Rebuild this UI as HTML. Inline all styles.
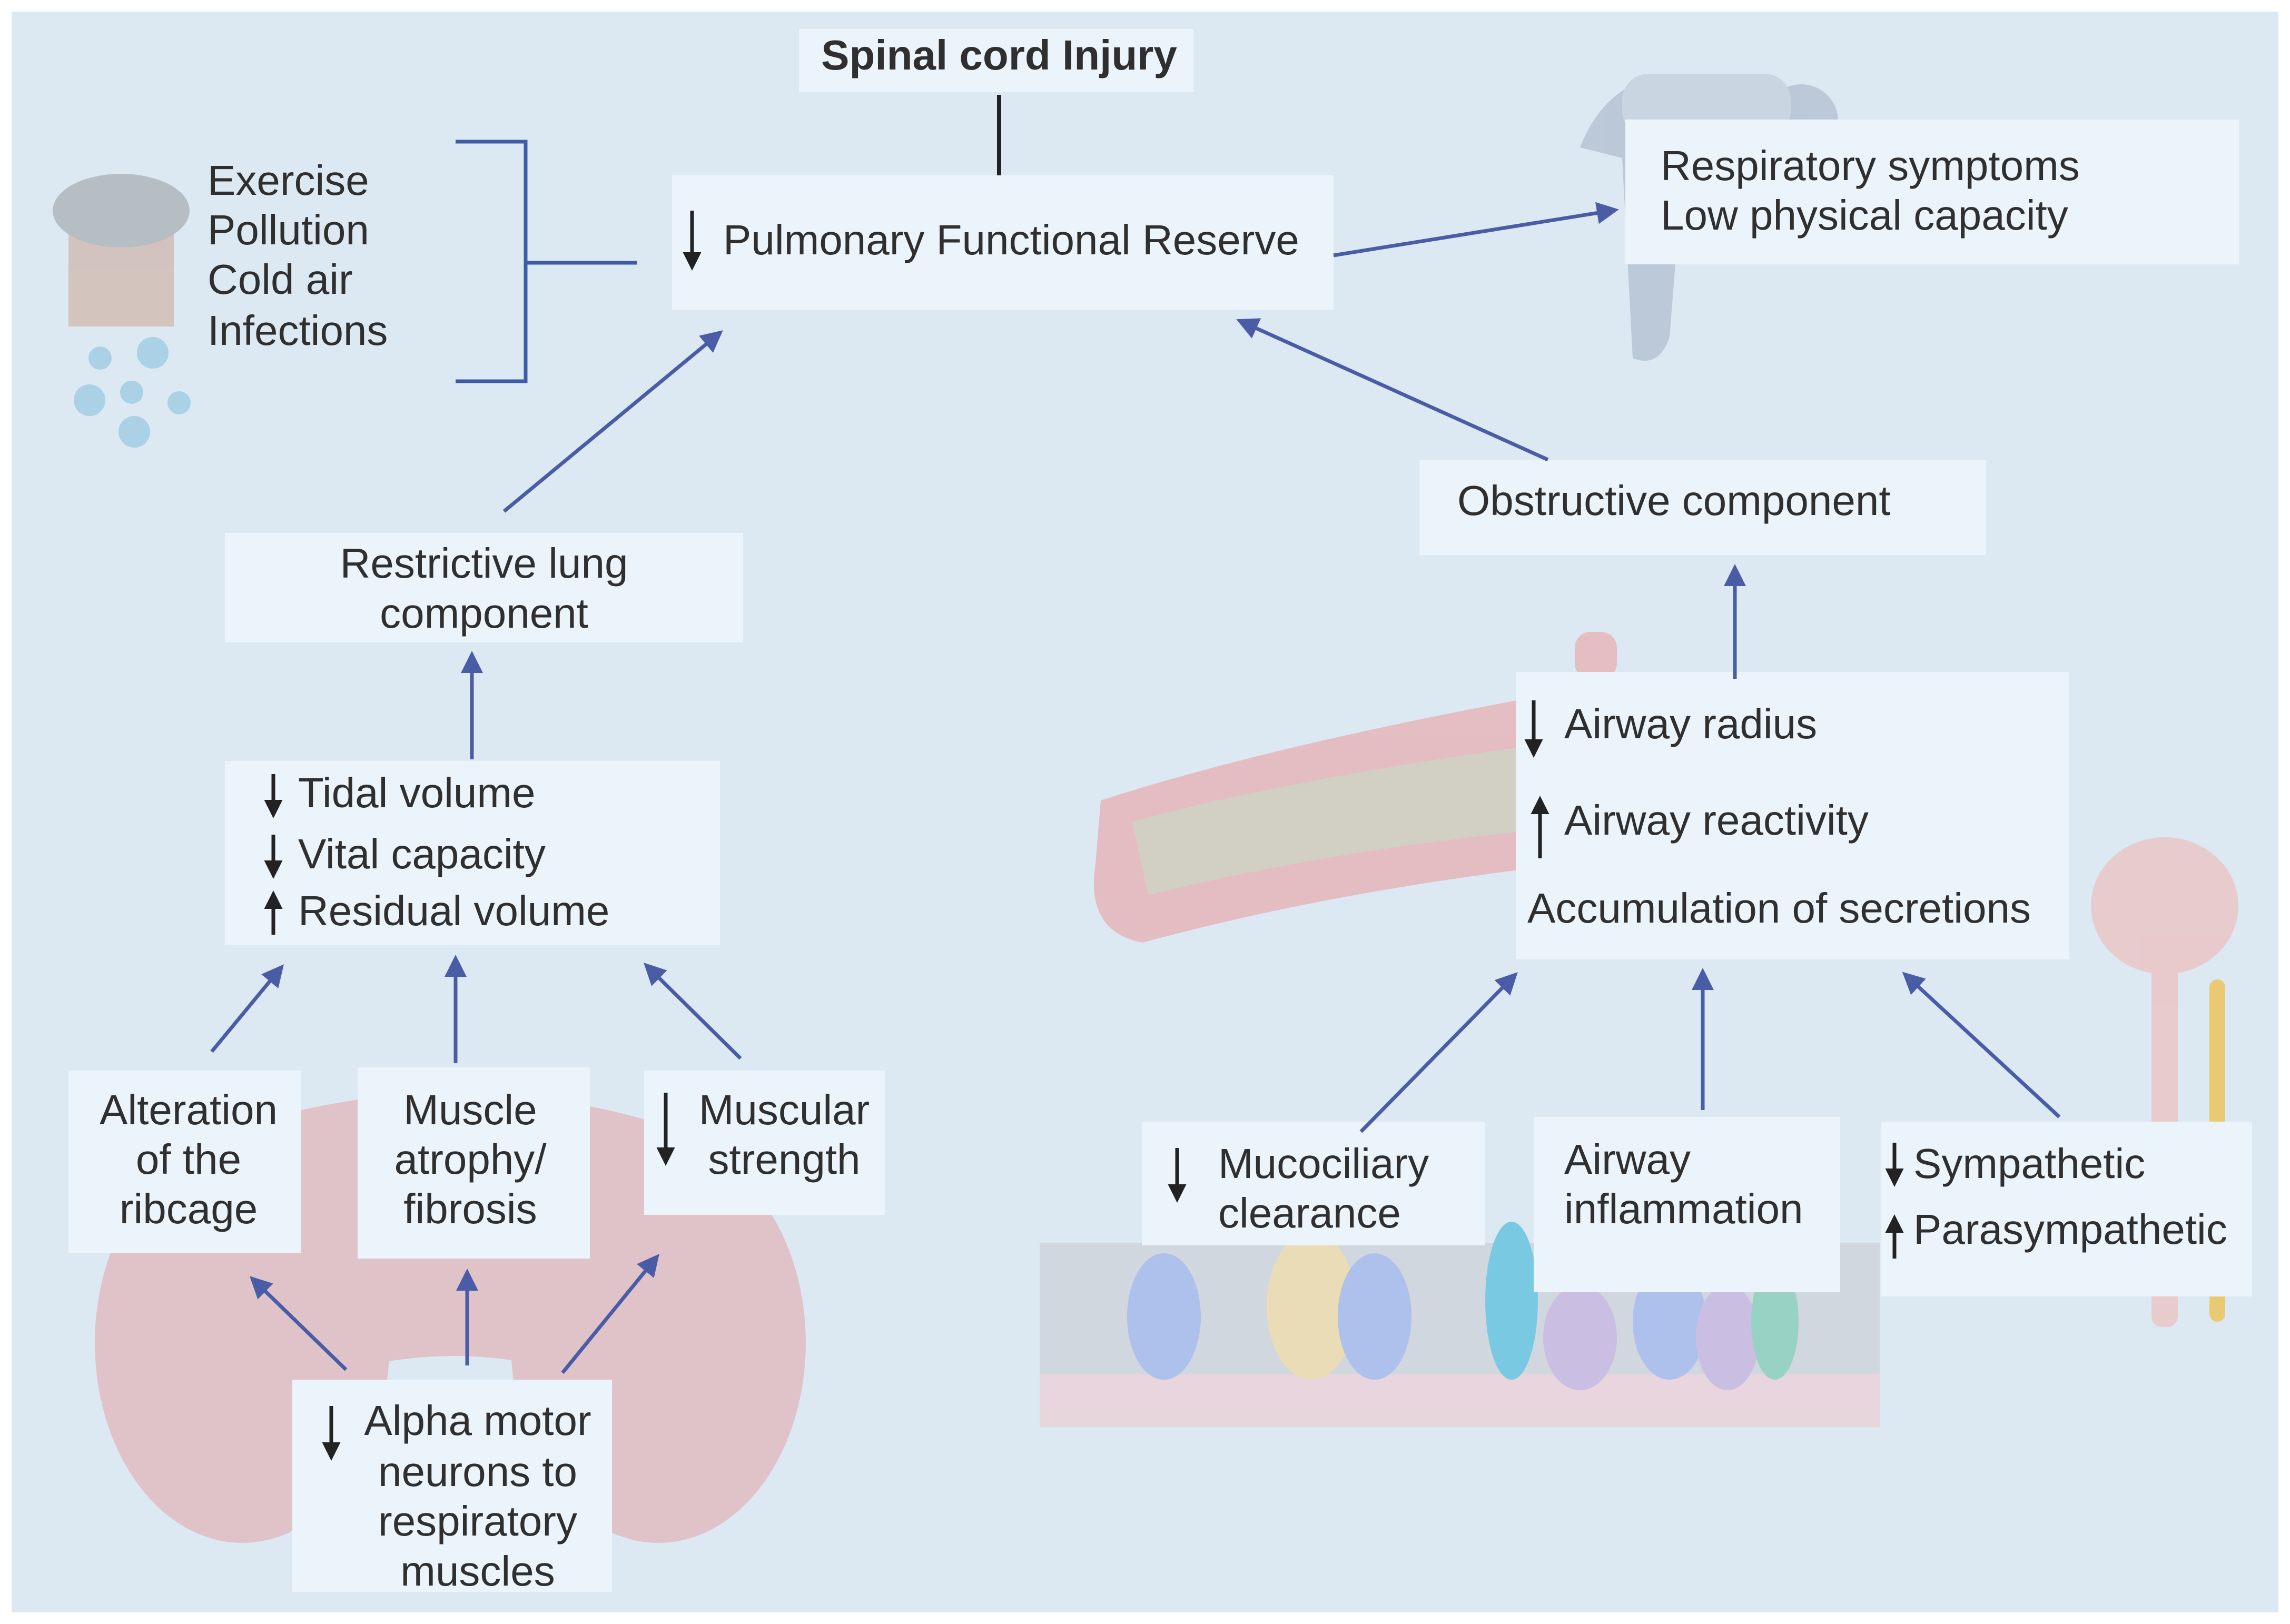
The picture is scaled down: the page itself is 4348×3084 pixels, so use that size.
<!DOCTYPE html>
<html><head><meta charset="utf-8"><style>
html,body{margin:0;padding:0;background:#fff}
svg{display:block}
text{font-family:"Liberation Sans",sans-serif;fill:#2f2f2f;font-size:80px}
</style></head><body>
<svg width="4348" height="3084" viewBox="0 0 4348 3084" xmlns="http://www.w3.org/2000/svg">
<defs>
<marker id="ah" markerWidth="6" markerHeight="6" refX="4" refY="3" orient="auto" markerUnits="strokeWidth">
<path d="M0,0 L6,3 L0,6 Z" fill="#4a5ca6"/></marker>
<marker id="bk" markerWidth="5" markerHeight="5" refX="3" refY="2.5" orient="auto" markerUnits="strokeWidth">
<path d="M0,0 L5,2.5 L0,5 Z" fill="#222"/></marker>
</defs>
<rect x="22" y="22" width="4304" height="3040" fill="#dce9f3"/>

<g opacity="0.5">
<path d="M3000,280 Q3050,150 3180,140 Q3250,180 3200,260 L3170,640 Q3150,700 3100,680 L3080,300 Z" fill="#9aa9bd"/>
<circle cx="3420" cy="230" r="70" fill="#9aa9bd"/>
<rect x="3080" y="140" width="320" height="120" rx="50" fill="#b8c4d3"/>
</g>
<g opacity="0.42">
<ellipse cx="460" cy="2550" rx="280" ry="380" fill="#e48f8f"/>
<ellipse cx="1250" cy="2550" rx="280" ry="380" fill="#e48f8f"/>
<path d="M300,2200 Q860,1950 1430,2200 L1300,2700 Q860,2450 430,2700 Z" fill="#e48f8f"/>
</g>
<g opacity="0.6">
<path d="M2090,1520 Q2400,1420 2880,1330 L2900,1650 Q2500,1700 2170,1790 Q2060,1770 2080,1640 Z" fill="#e9a1a3"/>
<path d="M2150,1560 Q2450,1480 2880,1420 L2880,1580 Q2500,1620 2180,1700 Z" fill="#cdc1a8"/>
<rect x="2990" y="1200" width="80" height="90" rx="30" fill="#e9a1a3"/>
</g>
<g opacity="0.6">
<rect x="1974" y="2360" width="1595" height="250" fill="#c9ccd2"/>
<rect x="1974" y="2610" width="1595" height="100" fill="#f0c9cf"/>
<ellipse cx="2210" cy="2500" rx="70" ry="120" fill="#8fa7e8"/>
<ellipse cx="2490" cy="2480" rx="85" ry="140" fill="#f2d58e"/>
<ellipse cx="2610" cy="2500" rx="70" ry="120" fill="#8fa7e8"/>
<ellipse cx="2870" cy="2470" rx="50" ry="150" fill="#3ab5d8"/>
<ellipse cx="3000" cy="2540" rx="70" ry="100" fill="#c1a3da"/>
<ellipse cx="3170" cy="2510" rx="70" ry="110" fill="#8fa7e8"/>
<ellipse cx="3280" cy="2540" rx="60" ry="100" fill="#c1a3da"/>
<ellipse cx="3370" cy="2510" rx="45" ry="110" fill="#6bc3a5"/>
</g>
<g opacity="0.6">
<ellipse cx="4110" cy="1720" rx="140" ry="130" fill="#f0b7b3"/>
<rect x="4085" y="1820" width="50" height="700" rx="20" fill="#f0b7b3"/>
<rect x="4195" y="1860" width="30" height="650" rx="15" fill="#f2b61e"/>
</g>
<g opacity="0.45">
<rect x="130" y="430" width="200" height="190" fill="#c9967f"/>
<ellipse cx="230" cy="400" rx="130" ry="70" fill="#8a8a8a"/>
<circle cx="190" cy="680" r="22" fill="#6fb6d8"/><circle cx="290" cy="670" r="30" fill="#6fb6d8"/>
<circle cx="170" cy="760" r="30" fill="#6fb6d8"/><circle cx="250" cy="745" r="22" fill="#6fb6d8"/>
<circle cx="340" cy="765" r="22" fill="#6fb6d8"/><circle cx="255" cy="820" r="30" fill="#6fb6d8"/>
</g>

<g fill="#ebf3fb">
<rect x="1517" y="55" width="749" height="120"/>
<rect x="1276" y="333" width="1256" height="255"/>
<rect x="3086" y="227" width="1165" height="275"/>
<rect x="2695" y="873" width="1076" height="181"/>
<rect x="427" y="1012" width="984" height="208"/>
<rect x="427" y="1445" width="940" height="349"/>
<rect x="130" y="2033" width="441" height="346"/>
<rect x="679" y="2027" width="441" height="363"/>
<rect x="1223" y="2033" width="457" height="274"/>
<rect x="555" y="2620" width="607" height="403"/>
<rect x="2878" y="1276" width="1051" height="546"/>
<rect x="2168" y="2130" width="652" height="235"/>
<rect x="2912" y="2121" width="582" height="333"/>
<rect x="3572" y="2130" width="704" height="332"/>
</g>

<line x1="1897" y1="180" x2="1897" y2="333" stroke="#222" stroke-width="8"/>
<g stroke="#3d5ca8" stroke-width="7" fill="none">
<path d="M865,269 H998 V724 H865"/><line x1="998" y1="499" x2="1209" y2="499"/>
</g>
<g stroke="#4a5ca6" stroke-width="7" marker-end="url(#ah)">
<line x1="2532" y1="485" x2="3060" y2="400"/>
<line x1="2939" y1="873" x2="2360" y2="612"/>
<line x1="957" y1="971" x2="1362" y2="636"/>
<line x1="896" y1="1442" x2="896" y2="1250"/>
<line x1="3294" y1="1289" x2="3294" y2="1085"/>
<line x1="402" y1="1997" x2="530" y2="1842"/>
<line x1="865" y1="2019" x2="865" y2="1827"/>
<line x1="1406" y1="2010" x2="1232" y2="1838"/>
<line x1="657" y1="2601" x2="484" y2="2433"/>
<line x1="887" y1="2593" x2="887" y2="2423"/>
<line x1="1068" y1="2607" x2="1243" y2="2392"/>
<line x1="2584" y1="2149" x2="2872" y2="1856"/>
<line x1="3233" y1="2108" x2="3233" y2="1852"/>
<line x1="3910" y1="2121" x2="3622" y2="1855"/>
</g>

<g stroke="#222" stroke-width="7" marker-end="url(#bk)">
<line x1="1314" y1="400" x2="1314" y2="500"/>
<line x1="519" y1="1470" x2="519" y2="1540"/>
<line x1="519" y1="1585" x2="519" y2="1655"/>
<line x1="519" y1="1775" x2="519" y2="1705"/>
<line x1="1264" y1="2075" x2="1264" y2="2200"/>
<line x1="629" y1="2670" x2="629" y2="2760"/>
<line x1="2912" y1="1330" x2="2912" y2="1425"/>
<line x1="2924" y1="1630" x2="2924" y2="1525"/>
<line x1="2235" y1="2180" x2="2235" y2="2270"/>
<line x1="3597" y1="2170" x2="3597" y2="2240"/>
<line x1="3597" y1="2390" x2="3597" y2="2320"/>
</g>

<text x="1897" y="132" text-anchor="middle" font-weight="bold" font-size="78">Spinal cord Injury</text>
<text x="1373" y="483">Pulmonary Functional Reserve</text>
<text x="394" y="370">Exercise</text>
<text x="394" y="464">Pollution</text>
<text x="394" y="558">Cold air</text>
<text x="394" y="655">Infections</text>
<text x="3153" y="342">Respiratory symptoms</text>
<text x="3153" y="436">Low physical capacity</text>
<text x="2767" y="978">Obstructive component</text>
<text x="919" y="1097" text-anchor="middle">Restrictive lung</text>
<text x="919" y="1192" text-anchor="middle">component</text>
<text x="566" y="1533">Tidal volume</text>
<text x="566" y="1649">Vital capacity</text>
<text x="566" y="1757">Residual volume</text>
<text x="358" y="2135" text-anchor="middle">Alteration</text>
<text x="358" y="2229" text-anchor="middle">of the</text>
<text x="358" y="2323" text-anchor="middle">ribcage</text>
<text x="893" y="2135" text-anchor="middle">Muscle</text>
<text x="893" y="2229" text-anchor="middle">atrophy/</text>
<text x="893" y="2323" text-anchor="middle">fibrosis</text>
<text x="1489" y="2135" text-anchor="middle">Muscular</text>
<text x="1489" y="2229" text-anchor="middle">strength</text>
<text x="907" y="2725" text-anchor="middle">Alpha motor</text>
<text x="907" y="2822" text-anchor="middle">neurons to</text>
<text x="907" y="2916" text-anchor="middle">respiratory</text>
<text x="907" y="3011" text-anchor="middle">muscles</text>
<text x="2970" y="1402">Airway radius</text>
<text x="2970" y="1585">Airway reactivity</text>
<text x="2900" y="1752">Accumulation of secretions</text>
<text x="2313" y="2237">Mucociliary</text>
<text x="2313" y="2331">clearance</text>
<text x="2970" y="2229">Airway</text>
<text x="2970" y="2323">inflammation</text>
<text x="3633" y="2237">Sympathetic</text>
<text x="3633" y="2362">Parasympathetic</text>
</svg>
</body></html>
